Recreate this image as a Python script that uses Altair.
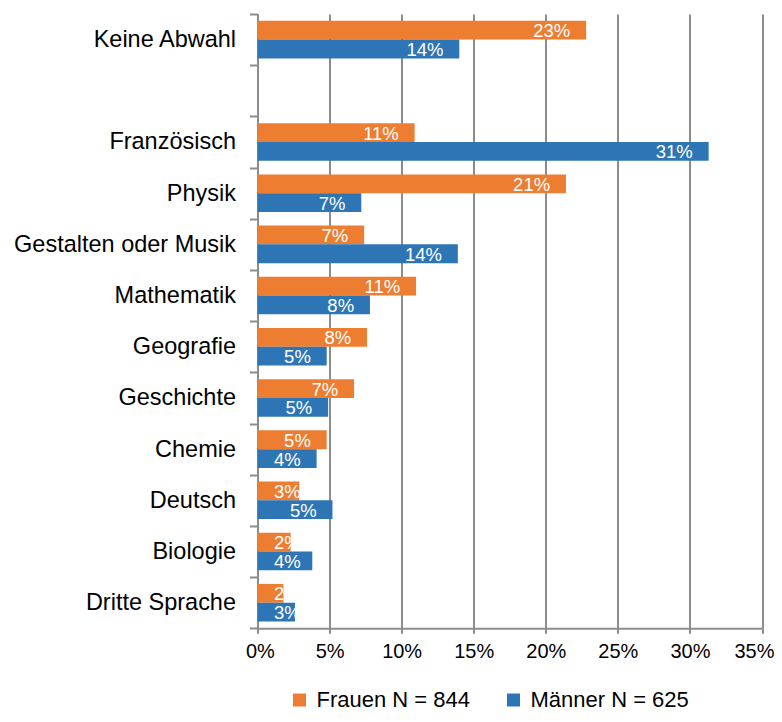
import altair as alt
import pandas as pd

# ---- data ----
categories = ["Keine Abwahl", " ", "Französisch", "Physik", "Gestalten oder Musik",
              "Mathematik", "Geografie", "Geschichte", "Chemie", "Deutsch",
              "Biologie", "Dritte Sprache"]
subjects = ["Keine Abwahl", "Französisch", "Physik", "Gestalten oder Musik",
            "Mathematik", "Geografie", "Geschichte", "Chemie", "Deutsch",
            "Biologie", "Dritte Sprache"]
frauen = [22.8, 10.9, 21.4, 7.4, 11.0, 7.6, 6.7, 4.8, 2.9, 2.3, 1.8]
maenner = [14.0, 31.3, 7.2, 13.9, 7.8, 4.8, 4.9, 4.1, 5.2, 3.8, 2.6]
series = ["Frauen N = 844", "Männer N = 625"]
colors = ["#ED7D31", "#2E75B6"]
x_ticks = [0, 5, 10, 15, 20, 25, 30, 35]

rows = []
for s, f, m in zip(subjects, frauen, maenner):
    rows.append({"cat": s, "g": series[0], "v": f})
    rows.append({"cat": s, "g": series[1], "v": m})
df = pd.DataFrame(rows)

FONT = "Liberation Sans"
GRID = "#8C8C8C"

base = alt.Chart(df).transform_calculate(
    label="format(datum.v, '.0f') + '%'",
    lx="max(datum.v - 1.1, 3.0)",
)

x_axis = alt.Axis(values=x_ticks, labelExpr="datum.value + '%'", grid=True,
                  tickSize=5, labelPadding=8, labelFontSize=20,
                  labelFlush=True, labelFlushOffset=12)
x_scale = alt.Scale(domain=[0, 35], nice=False, zero=True)

y_enc = alt.Y("cat:N", title=None,
              scale=alt.Scale(domain=categories, paddingInner=0, paddingOuter=0),
              axis=alt.Axis(tickBand="extent", tickSize=8, labelPadding=14,
                            labelFontSize=23.5, labelLimit=0, grid=False))
yoff = alt.YOffset("g:N", scale=alt.Scale(domain=series, paddingInner=0, paddingOuter=0.362))

bars = base.mark_bar().encode(
    x=alt.X("v:Q", title=None, scale=x_scale, axis=x_axis),
    y=y_enc,
    yOffset=yoff,
    color=alt.Color("g:N", title=None,
                    scale=alt.Scale(domain=series, range=colors),
                    legend=alt.Legend(orient="none", direction="horizontal",
                                      legendX=31, legendY=675,
                                      symbolType="square", symbolSize=169,
                                      symbolStrokeWidth=0, labelLimit=0,
                                      labelFontSize=22, labelOffset=6,
                                      columnPadding=32, padding=0)),
)

labels = base.mark_text(align="right", baseline="middle", color="white",
                        fontSize=18.5, font=FONT, dy=1).encode(
    x=alt.X("lx:Q", title=None, scale=x_scale, axis=x_axis),
    y=alt.Y("cat:N", title=None),
    yOffset=alt.YOffset("g:N"),
    text="label:N",
)

chart = alt.layer(bars, labels).properties(
    width=504.5, height=614.3,
    autosize=alt.AutoSizeParams(type="none"),
    padding={"left": 249.5, "top": 6, "right": 12, "bottom": 85},
).configure_view(stroke=None).configure_axis(
    domainColor=GRID, domainWidth=2, tickColor=GRID, tickWidth=2,
    gridColor=GRID, gridWidth=2, labelColor="#000000", labelFont=FONT,
).configure_legend(labelFont=FONT, labelColor="#000000")

chart.save("out.html", embed_options={"renderer": "svg", "actions": False})
